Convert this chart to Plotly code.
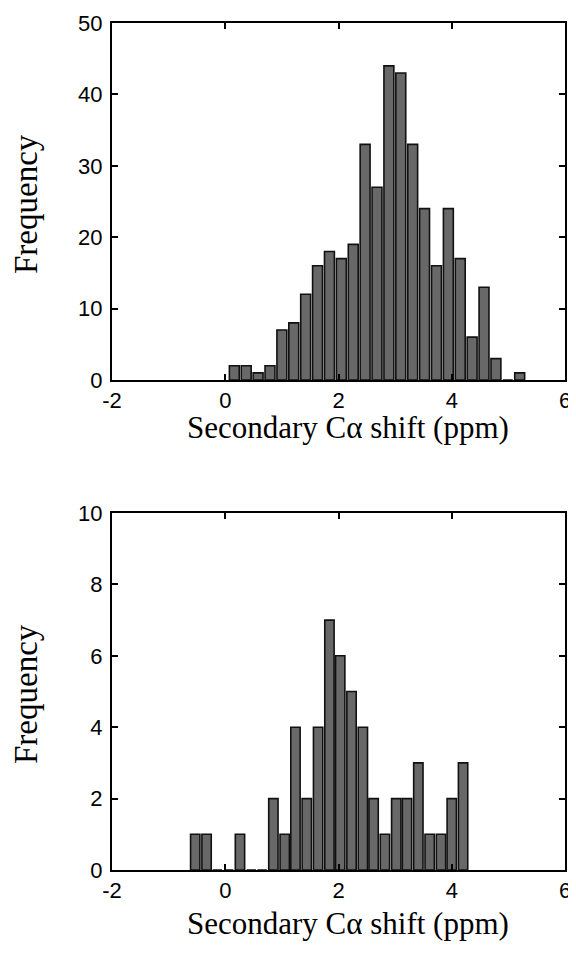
import plotly.graph_objects as go

# Top histogram (bin centres, ppm) and counts
top_centers = [0.16, 0.37, 0.58, 0.79, 1.00, 1.21, 1.42, 1.63, 1.84, 2.05, 2.26, 2.47,
               2.68, 2.89, 3.10, 3.31, 3.52, 3.73, 3.94, 4.15, 4.36, 4.57, 4.78, 4.99, 5.20]
top_counts = [2, 2, 1, 2, 7, 8, 12, 16, 18, 17, 19, 33,
              27, 44, 43, 33, 24, 16, 24, 17, 6, 13, 3, 0, 1]

# Bottom histogram
bot_centers = [-0.53, -0.33, -0.14, 0.06, 0.26, 0.46, 0.65, 0.85, 1.05, 1.24, 1.44, 1.64,
               1.84, 2.03, 2.23, 2.43, 2.62, 2.82, 3.02, 3.21, 3.41, 3.61, 3.81, 4.00, 4.20]
bot_counts = [1, 1, 0, 0, 1, 0, 0, 2, 1, 4, 2, 4,
              7, 6, 5, 4, 2, 1, 2, 2, 3, 1, 1, 2, 3]

x_ticks = [-2, 0, 2, 4, 6]
x_ticktext = ["-2", "0", "2", "4", "6"]
top_yticks = [0, 10, 20, 30, 40, 50]
bot_yticks = [0, 2, 4, 6, 8, 10]
x_title = "Secondary Cα shift (ppm)"
y_title = "Frequency"

OFF = 8  # page body margin in the browser
W, H = 576 - OFF, 955 - 2 * OFF

def px(p):
    return (p - OFF) / W

def py(p):
    return (H - (p - OFF)) / H

fig = go.Figure()

bar_style = dict(marker=dict(color="#686868", line=dict(color="#111111", width=1.6)),
                 showlegend=False, hoverinfo="skip")
fig.add_trace(go.Bar(x=top_centers, y=top_counts, xaxis="x", yaxis="y", width=0.175, **bar_style))
fig.add_trace(go.Bar(x=bot_centers, y=bot_counts, xaxis="x2", yaxis="y2", width=0.165, **bar_style))

tick_font = dict(family="Liberation Sans, Arial", size=22, color="black")
xtitle_font = dict(family="Liberation Serif, Times New Roman", size=31, color="black")
ytitle_font = dict(family="Liberation Serif, Times New Roman", size=33, color="black")

def xaxis(anchor):
    return dict(domain=[px(112), px(565)], anchor=anchor, range=[-2, 6],
                tickvals=x_ticks, ticktext=x_ticktext,
                ticks="inside", ticklen=6, tickwidth=2, tickcolor="black",
                showline=True, linewidth=2, linecolor="black", mirror="ticks",
                showgrid=False, zeroline=False, tickfont=tick_font,
                automargin=False, ticklabelstandoff=0, ticklabeloverflow="allow")

def yaxis(anchor, dom, rng, ticks):
    return dict(domain=dom, anchor=anchor, range=rng, tickvals=ticks,
                ticks="inside", ticklen=6, tickwidth=2, tickcolor="black",
                showline=True, linewidth=2, linecolor="black", mirror="ticks",
                showgrid=False, zeroline=False, tickfont=tick_font,
                automargin=False, ticklabelstandoff=3, ticklabeloverflow="allow")

annotations = []
for xc, yc in [(348, 427), (348, 923)]:
    annotations.append(dict(text=x_title, x=px(xc), y=py(yc), xref="paper", yref="paper",
                            xanchor="center", yanchor="middle", showarrow=False, font=xtitle_font))
for yc in [204, 694]:
    annotations.append(dict(text=y_title, x=px(26), y=py(yc), xref="paper", yref="paper",
                            xanchor="center", yanchor="middle", showarrow=False,
                            textangle=-90, font=ytitle_font))

fig.update_layout(
    width=W, height=H,
    margin=dict(l=0, r=0, t=0, b=0),
    paper_bgcolor="white", plot_bgcolor="white",
    xaxis=xaxis("y"),
    yaxis=yaxis("x", [py(380), py(23)], [0, 50], top_yticks),
    xaxis2=xaxis("y2"),
    yaxis2=yaxis("x2", [py(870), py(513)], [0, 10], bot_yticks),
    annotations=annotations,
)

fig.write_html("out.html")
